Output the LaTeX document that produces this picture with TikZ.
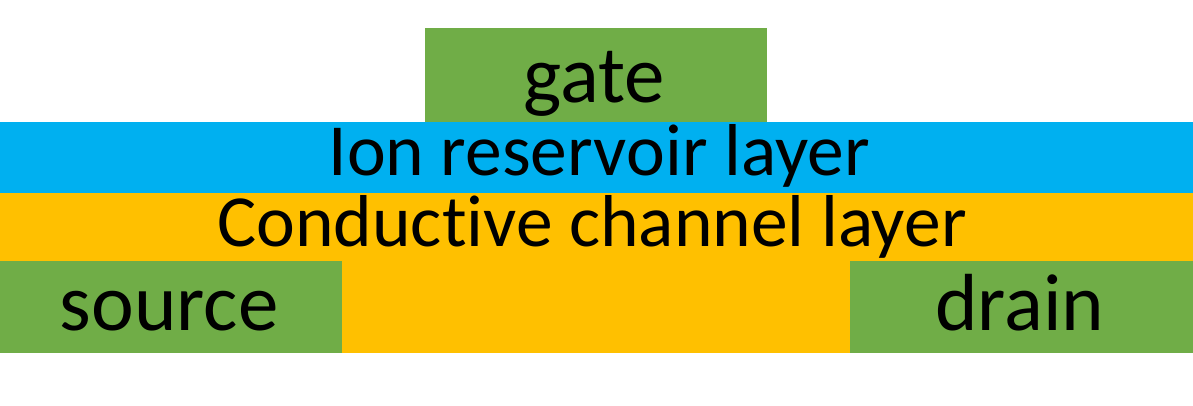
\documentclass[tikz,border=0pt]{standalone}
\usepackage{fontspec}
\setmainfont{Carlito}[RawFeature={-liga;-clig;-dlig}]
\definecolor{cgreen}{HTML}{70AD47}
\definecolor{cblue}{HTML}{00B0F0}
\definecolor{corange}{HTML}{FFC000}
\begin{document}
\begin{tikzpicture}[x=1pt,y=-1pt,
  layer/.style={fill=#1,draw=none},
  lbl/.style={anchor=base,inner sep=0pt,font=\fontsize{73.5}{78}\selectfont},
  big/.style={anchor=base,inner sep=0pt,font=\fontsize{81}{86}\selectfont}]
\useasboundingbox (0,0) rectangle (1193,405);
\fill[layer=corange] (0,193) rectangle (1193,353);
\fill[layer=cblue] (0,122) rectangle (1193,193);
\fill[layer=cgreen] (425,28) rectangle (767,122);
\fill[layer=cgreen] (0,261) rectangle (342,353);
\fill[layer=cgreen] (850,261) rectangle (1193,353);
\node[big] (gate) at (594,102) {gate};
\node[lbl] (ion) at (599,175) {Ion reservoir layer};
\node[lbl] (chan) at (592,246) {Conduc\kern0pt tive channel layer};
\node[big] (src) at (169,330) {source};
\node[big] (drn) at (1020,330) {drain};
\end{tikzpicture}
\end{document}
